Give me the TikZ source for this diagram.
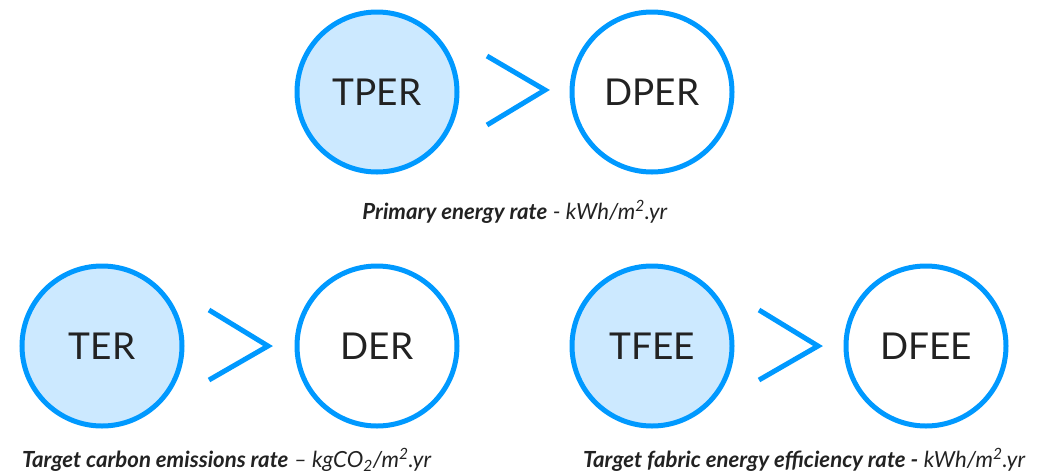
\documentclass[tikz,border=0pt]{standalone}
\usepackage{fontspec}
\setmainfont{Lato}
\definecolor{ringblue}{HTML}{0099FF}
\definecolor{fillblue}{HTML}{CCE9FF}
\definecolor{txt}{HTML}{222222}
\begin{document}
\begin{tikzpicture}[x=1pt,y=-1pt,
  ring/.style={circle,draw=ringblue,line width=5pt,minimum size=160pt,inner sep=0pt,
    font=\fontsize{37}{40}\selectfont,text=txt},
  target/.style={ring,fill=fillblue},
  design/.style={ring,fill=white},
  chev/.style={draw=ringblue,line width=5pt,miter limit=10},
  caption/.style={font=\fontsize{22.2}{25}\selectfont,text=txt,inner sep=0pt}]
\useasboundingbox (0,0) rectangle (1050,475);
% top row
\node[target] (tper) at (377,92) {TPER};
\node[design] (dper) at (652,92) {DPER};
\draw[chev] (487,56) -- (545,90) -- (487,125);
\node[caption] (cap1) at (515,212) {\textbf{\textit{Primary energy rate}} \textit{- kWh/m\textsuperscript{2}.yr}};
% bottom left
\node[target] (ter) at (102,346) {TER};
\node[design] (der) at (377,346) {DER};
\draw[chev] (209,310) -- (268,346) -- (209,380);
\node[caption,anchor=west] (cap2) at (22,460) {\textbf{\textit{Target carbon emissions rate}} \textit{– kgCO\textsubscript{2}/m\textsuperscript{2}.yr}};
% bottom right
\node[target] (tfee) at (652,346) {TFEE};
\node[design] (dfee) at (926,346) {DFEE};
\draw[chev] (759,310) -- (818,346) -- (759,380);
\node[caption,anchor=west] (cap3) at (583,460) {\textbf{\textit{Target fabric energy efficiency rate -}} \textit{kWh/m\textsuperscript{2}.yr}};
\end{tikzpicture}
\end{document}
